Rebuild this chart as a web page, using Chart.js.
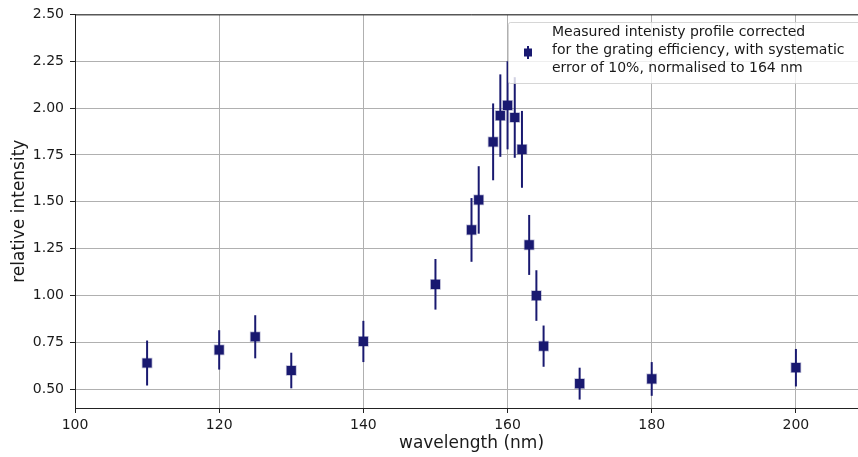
<!DOCTYPE html>
<html>
<head>
<meta charset="utf-8">
<script src="https://cdn.jsdelivr.net/npm/chart.js@4"></script>
<style>
  html, body { margin: 0; padding: 0; background: #fff; overflow: hidden; }
  #wrap { width: 876px; height: 457px; }
</style>
</head>
<body>
<div id="wrap"><canvas id="myChart" width="876" height="457"></canvas></div>
<script>
const wavelength = [110, 120, 125, 130, 140, 150, 155, 156, 158, 159, 160, 161, 162, 163, 164, 165, 170, 180, 200];
const intensity = [0.64, 0.71, 0.78, 0.60, 0.755, 1.06, 1.35, 1.51, 1.82, 1.96, 2.015, 1.95, 1.78, 1.27, 1.00, 0.73, 0.53, 0.555, 0.615];
const intensityErr = [0.12, 0.105, 0.115, 0.095, 0.11, 0.135, 0.17, 0.18, 0.205, 0.22, 0.235, 0.215, 0.205, 0.16, 0.135, 0.11, 0.085, 0.09, 0.10];
const legendLines = [
  'Measured intenisty profile corrected',
  'for the grating efficiency, with systematic',
  'error of 10%, normalised to 164 nm'
];

const navy = '#191970';
const fontFamily = '"DejaVu Sans", sans-serif';

const points = wavelength.map((w, i) => ({ x: w, y: intensity[i] }));

// error bars drawn under the markers
const errorBars = {
  id: 'errorBars',
  beforeDatasetsDraw(chart) {
    const ctx = chart.ctx;
    const xs = chart.scales.x;
    const ys = chart.scales.y;
    ctx.save();
    ctx.strokeStyle = navy;
    ctx.lineWidth = 2;
    for (let i = 0; i < wavelength.length; i++) {
      const px = xs.getPixelForValue(wavelength[i]);
      ctx.beginPath();
      ctx.moveTo(px, ys.getPixelForValue(intensity[i] - intensityErr[i]));
      ctx.lineTo(px, ys.getPixelForValue(intensity[i] + intensityErr[i]));
      ctx.stroke();
    }
    ctx.restore();
  }
};

// top spine + legend box
const frameAndLegend = {
  id: 'frameAndLegend',
  afterDraw(chart) {
    const ctx = chart.ctx;
    const a = chart.chartArea;
    ctx.save();
    ctx.strokeStyle = '#222';
    ctx.lineWidth = 1;
    ctx.beginPath();
    ctx.moveTo(a.left, a.top + 0.5);
    ctx.lineTo(a.right, a.top + 0.5);
    ctx.stroke();

    // legend
    const bx = 508, by = 22, bw = 352, bh = 61;
    ctx.globalAlpha = 0.8;
    ctx.fillStyle = '#fff';
    ctx.strokeStyle = '#ccc';
    ctx.beginPath();
    ctx.roundRect(bx + 0.5, by + 0.5, bw, bh, 2);
    ctx.fill();
    ctx.stroke();
    ctx.globalAlpha = 1;

    ctx.strokeStyle = navy;
    ctx.lineWidth = 2;
    ctx.beginPath();
    ctx.moveTo(528, 46);
    ctx.lineTo(528, 59);
    ctx.stroke();
    ctx.fillStyle = navy;
    ctx.fillRect(524, 48.5, 8, 8);

    ctx.fillStyle = '#1a1a1a';
    ctx.font = '14px ' + fontFamily;
    ctx.textBaseline = 'middle';
    ctx.textAlign = 'left';
    const lineY = [32, 50, 68];
    legendLines.forEach((t, i) => ctx.fillText(t, 552, lineY[i]));
    ctx.restore();
  }
};

const chartCtx = document.getElementById('myChart').getContext('2d');

const myChart = new Chart(chartCtx, {
  type: 'scatter',
  data: {
    datasets: [{
      label: legendLines.join(' '),
      data: points,
      pointStyle: 'rect',
      pointRadius: 6.5,
      pointHoverRadius: 6.5,
      backgroundColor: navy,
      borderColor: 'rgba(25, 25, 112, 0.3)',
      borderWidth: 1.5
    }]
  },
  plugins: [errorBars, frameAndLegend],
  options: {
    responsive: false,
    animation: false,
    layout: { padding: { top: 14, right: 1, bottom: 0, left: 0 } },
    plugins: {
      legend: { display: false },
      tooltip: { enabled: false }
    },
    scales: {
      x: {
        type: 'linear',
        min: 100,
        max: 210,
        afterFit(scale) { scale.height = 49; },
        ticks: {
          stepSize: 20,
          includeBounds: false,
          padding: 4,
          color: '#1a1a1a',
          font: { family: fontFamily, size: 14 }
        },
        grid: { color: '#b0b0b0', lineWidth: 1, tickColor: '#222', tickLength: 5 },
        border: { color: '#222', width: 1 },
        title: {
          display: true,
          text: 'wavelength (nm)',
          color: '#1a1a1a',
          font: { family: fontFamily, size: 17 },
          padding: { top: 0, bottom: 3 }
        }
      },
      y: {
        min: 0.4,
        max: 2.5,
        afterFit(scale) { scale.width = 75; },
        ticks: {
          stepSize: 0.25,
          includeBounds: false,
          padding: 6,
          color: '#1a1a1a',
          font: { family: fontFamily, size: 14 },
          callback: (v) => v.toFixed(2)
        },
        grid: { color: '#b0b0b0', lineWidth: 1, tickColor: '#222', tickLength: 5 },
        border: { color: '#222', width: 1 },
        title: {
          display: true,
          text: 'relative intensity',
          color: '#1a1a1a',
          font: { family: fontFamily, size: 17 },
          padding: { top: 9, bottom: 0 }
        }
      }
    }
  }
});
</script>
</body>
</html>
